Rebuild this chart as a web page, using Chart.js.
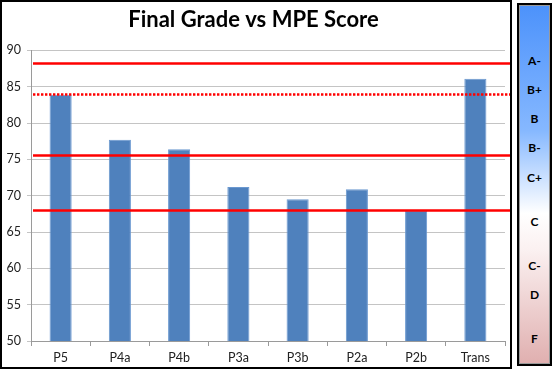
<!DOCTYPE html>
<html>
<head>
<meta charset="utf-8">
<script src="https://cdn.jsdelivr.net/npm/chart.js@4"></script>
<style>
  html, body { margin: 0; padding: 0; background: #fff; }
  #box { position: absolute; left: 0; top: 0; width: 508px; height: 365px; border: 2px solid #000; }
  #box canvas { display: block; }
  #panel { position: absolute; left: 517px; top: 3px; width: 31px; height: 359px; border: 2px solid #000;
           box-shadow: inset 0 0 0 1px #9a9a9a;
           background: linear-gradient(to bottom, #4c92fb 0%, #86b8ff 35%, #ffffff 58%, #fbf1f1 68%, #e0afaf 100%); }
  .g { position: absolute; left: 0; width: 100%; text-align: center; font: bold 12px Lato, "Open Sans", sans-serif;
       color: #000; transform: translateY(-50%); }
</style>
</head>
<body>
<div id="box"><canvas id="c" width="508" height="365"></canvas></div>
<div id="panel"></div>
<script>
const categories = ['P5', 'P4a', 'P4b', 'P3a', 'P3b', 'P2a', 'P2b', 'Trans'];
const scores = [83.9, 77.7, 76.4, 71.2, 69.5, 70.9, 67.9, 86.1];
const gradeLines = [88.3, 84.0, 75.6, 68.1];
const yTicks = [50, 55, 60, 65, 70, 75, 80, 85, 90];
const grades = ['A-', 'B+', 'B', 'B-', 'C+', 'C', 'C-', 'D', 'F'];
const gradeTops = [58, 87, 116, 145, 175, 219, 263, 292, 336];

const panel = document.getElementById('panel');
grades.forEach((g, i) => {
  const d = document.createElement('div');
  d.className = 'g';
  d.textContent = g;
  d.style.top = (gradeTops[i] - 3) + 'px';
  panel.appendChild(d);
});

const linePlugin = {
  id: 'gradeLines',
  afterDatasetsDraw(chart) {
    const ctx = chart.ctx, y = chart.scales.y;
    const x0 = chart.chartArea.left + 2, x1 = chart.width;
    gradeLines.forEach((v, i) => {
      const py = Math.round(y.getPixelForValue(v)) + 0.5;
      ctx.save();
      ctx.strokeStyle = '#ff0000';
      ctx.lineWidth = 2.6;
      if (i === 1) ctx.setLineDash([2.4, 1.6]);
      ctx.beginPath();
      ctx.moveTo(x0, py);
      ctx.lineTo(x1, py);
      ctx.stroke();
      ctx.restore();
    });
  }
};

new Chart(document.getElementById('c'), {
  type: 'bar',
  data: {
    labels: categories,
    datasets: [{
      data: scores,
      backgroundColor: '#4f81bd',
      borderColor: '#6a98d0',
      borderWidth: 1,
      categoryPercentage: 1,
      barPercentage: 0.373
    }]
  },
  options: {
    responsive: false,
    animation: false,
    devicePixelRatio: 1,
    layout: { padding: { left: 0, right: 5, top: 0, bottom: 0 } },
    plugins: {
      legend: { display: false },
      tooltip: { enabled: false },
      title: {
        display: true,
        text: 'Final Grade vs MPE Score',
        color: '#000',
        font: { family: 'Lato', size: 22, weight: 'bold', lineHeight: 1.2 },
        padding: { top: 5, bottom: 17 }
      }
    },
    scales: {
      x: {
        grid: { drawOnChartArea: false, drawTicks: true, tickLength: 5, color: '#9a9a9a', offset: true },
        border: { color: '#9a9a9a', width: 1 },
        ticks: { color: '#222', font: { family: 'Lato', size: 12.5 }, padding: 4, maxRotation: 0 },
        afterFit(s) { s.height = 26; }
      },
      y: {
        min: 50, max: 90,
        afterBuildTicks(s) { s.ticks = yTicks.map(v => ({ value: v })); },
        grid: { color: '#c4c4c4', lineWidth: 1, tickLength: 4 },
        border: { color: '#9a9a9a', width: 1 },
        ticks: { color: '#222', font: { family: 'Lato', size: 12.5 }, padding: 6 },
        afterFit(s) { s.width = 29; }
      }
    }
  },
  plugins: [linePlugin]
});
</script>
</body>
</html>
